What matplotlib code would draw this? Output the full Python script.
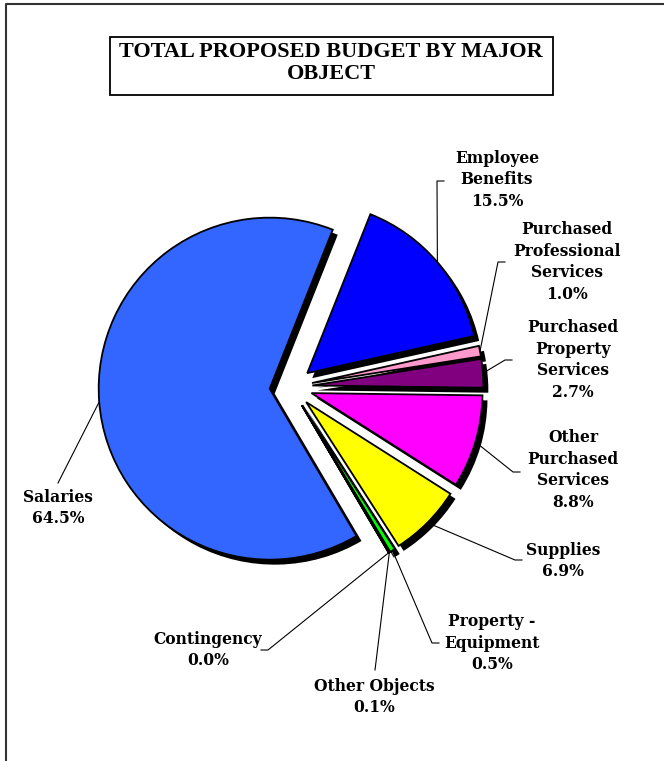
import matplotlib.pyplot as plt
from matplotlib.patches import Rectangle
import numpy as np

categories = ['Salaries', 'Employee\nBenefits', 'Purchased\nProfessional\nServices',
              'Purchased\nProperty\nServices', 'Other\nPurchased\nServices', 'Supplies',
              'Property -\nEquipment', 'Other Objects', 'Contingency']
shares = [64.5, 15.5, 1.0, 2.7, 8.8, 6.9, 0.5, 0.1, 0.0]
colors = ['#3366FF', '#0000FF', '#FF99CC', '#800080', '#FF00FF', '#FFFF00',
          '#00FF00', '#00FFFF', '#800000']

W, H = 664, 761
cx, cy = 291, H - 387
R = 171
explode_frac = 0.125

# label text centre and leader elbow, pixel coords (y down)
label_pos = {
    0: ((58, 508), (58, 483)),
    1: ((497, 180), (437, 181)),
    2: ((567, 262), (498, 262)),
    3: ((573, 360), (505, 360)),
    4: ((573, 470), (513, 472)),
    5: ((563, 561), (515, 560)),
    6: ((492, 643), (432, 643)),
    7: ((374, 697), (375, 670)),
    8: ((208, 650), (268, 650)),
}

fig = plt.figure(figsize=(W / 100, H / 100), dpi=100)
ax = fig.add_axes([0, 0, 1, 1])

explode = [explode_frac * R] * len(shares)
vals = [max(v, 0.02) for v in shares]
# shadow
ax.pie(vals, radius=R, center=(cx + 5, cy - 5), startangle=300.5, counterclock=False,
       explode=explode, colors=['black'] * len(vals), wedgeprops=dict(linewidth=0))
wedges, _ = ax.pie(vals, radius=R, center=(cx, cy), startangle=300.5, counterclock=False,
                   explode=explode, colors=colors,
                   wedgeprops=dict(edgecolor='black', linewidth=1.3))

for i, w in enumerate(wedges):
    mid = np.deg2rad((w.theta1 + w.theta2) / 2)
    ox, oy = w.center
    ax_, ay_ = ox + R * np.cos(mid), oy + R * np.sin(mid)
    (tx, ty), (ex, ey) = label_pos[i]
    ax.plot([ax_, ex, ex + (0 if i in (0, 7) else (-7 if ex > tx else 7))],
            [ay_, H - ey, H - ey], color='black', linewidth=0.8)
    ax.text(tx, H - ty, f'{categories[i]}\n{shares[i]:.1f}%', ha='center', va='center',
            fontsize=11.2, fontweight='bold', family='DejaVu Serif', linespacing=1.35)

ax.text(331, H - 63, 'TOTAL PROPOSED BUDGET BY MAJOR\nOBJECT', ha='center', va='center',
        fontsize=16, fontweight='bold', family='Liberation Serif', linespacing=1.1)
ax.add_patch(Rectangle((110, H - 95), 443, 58, fill=False, edgecolor='black', linewidth=1.3))

ax.plot([6, 6, W + 5], [-5, H - 4, H - 4], color='#333333', linewidth=1.5)

ax.set_xlim(0, W)
ax.set_ylim(0, H)
ax.axis('off')
fig.savefig('out.png', dpi=100)
